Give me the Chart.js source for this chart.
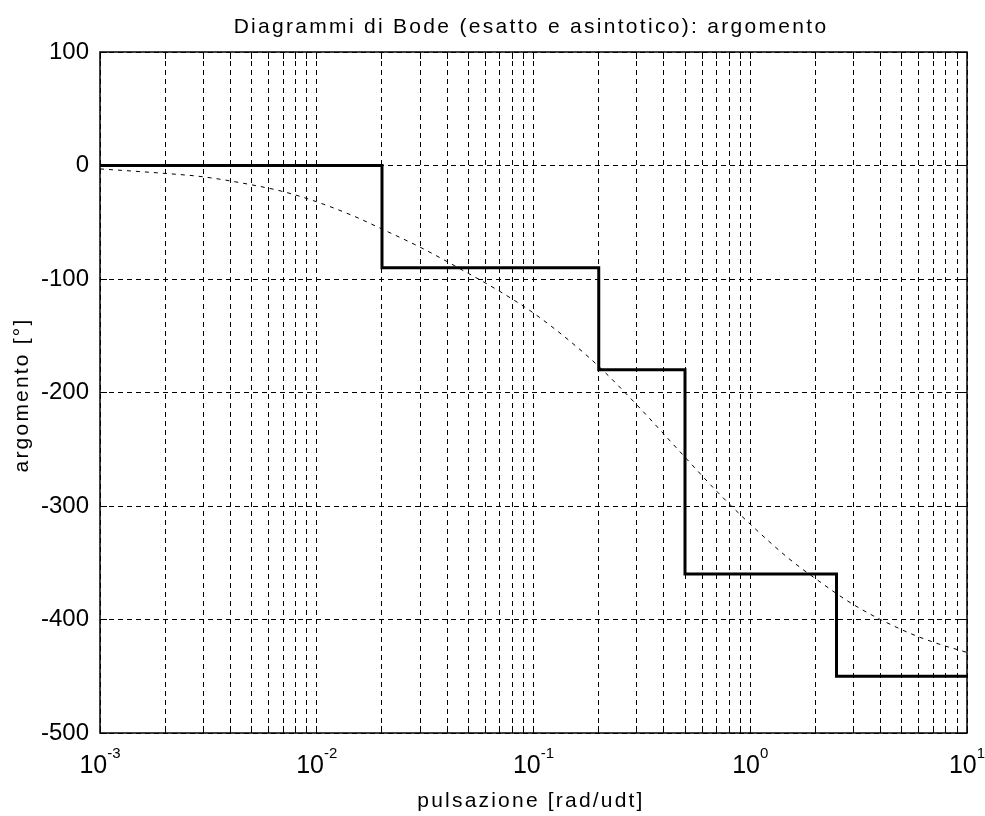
<!DOCTYPE html>
<html>
<head>
<meta charset="utf-8">
<title>Diagrammi di Bode</title>
<script src="https://cdn.jsdelivr.net/npm/chart.js@4.4.0/dist/chart.umd.min.js"></script>
<style>
  html, body { margin: 0; padding: 0; background: #fff; }
  canvas { display: block; }
</style>
</head>
<body>
<canvas id="bode" width="985" height="816"></canvas>
<script>
// asymptotic phase: one level per break frequency
const asymFreq = [0.001, 0.02, 0.2, 0.5, 2.5, 10];
const asymPhase = [0, -90, -180, -360, -450, -450];

// exact phase curve
const exactFreq = [0.001, 0.002, 0.003, 0.005, 0.007, 0.01, 0.015, 0.02, 0.03, 0.05, 0.07, 0.1,
                   0.15, 0.2, 0.3, 0.5, 0.7, 1, 1.5, 2, 3, 5, 7, 10];
const exactPhase = [-3, -7, -10, -17, -23, -32, -45, -56, -72, -95, -111, -130,
                    -156, -177, -211, -257, -287, -316, -346, -364, -387, -409, -420, -429];

// axis ticks
const decades = [0.001, 0.01, 0.1, 1, 10];
const decadeExp = ['-3', '-2', '-1', '0', '1'];
const yTicks = [100, 0, -100, -200, -300, -400, -500];

const titleText = 'Diagrammi di Bode (esatto e asintotico): argomento';
const xTitle = 'pulsazione [rad/udt]';
const yTitle = 'argomento [°]';

const FONT = '"Liberation Sans", Arial, Helvetica, sans-serif';

function align(p) {
    return Math.round(p - 0.5) + 0.5;
}

// frame, inward tick marks, 10^n labels and titles
const bodeFrame = {
    id: 'bodeFrame',
    afterDraw(chart) {
        const { ctx, chartArea: a, scales: { x, y } } = chart;
        ctx.save();
        ctx.strokeStyle = '#000';
        ctx.lineWidth = 1;
        ctx.beginPath();
        x.ticks.forEach(t => {
            const px = align(x.getPixelForValue(t.value));
            ctx.moveTo(px, a.bottom); ctx.lineTo(px, a.bottom - 7);
            ctx.moveTo(px, a.top); ctx.lineTo(px, a.top + 7);
        });
        y.ticks.forEach(t => {
            const py = align(y.getPixelForValue(t.value));
            ctx.moveTo(a.left, py); ctx.lineTo(a.left + 7, py);
            ctx.moveTo(a.right, py); ctx.lineTo(a.right - 7, py);
        });
        ctx.stroke();

        ctx.lineWidth = 1.5;
        ctx.strokeRect(a.left, a.top, a.right - a.left, a.bottom - a.top);

        // decade labels with raised exponent
        ctx.fillStyle = '#000';
        ctx.textBaseline = 'alphabetic';
        ctx.textAlign = 'left';
        decades.forEach((v, i) => {
            const px = x.getPixelForValue(v);
            ctx.font = '25px ' + FONT;
            const bw = ctx.measureText('10').width;
            ctx.font = '15px ' + FONT;
            const ew = ctx.measureText(decadeExp[i]).width;
            const x0 = px - (bw + ew) / 2;
            ctx.font = '25px ' + FONT;
            ctx.fillText('10', x0, a.bottom + 40);
            ctx.font = '15px ' + FONT;
            ctx.fillText(decadeExp[i], x0 + bw, a.bottom + 25);
        });

        // titles
        ctx.font = '21px ' + FONT;
        ctx.letterSpacing = '2.3px';
        ctx.textAlign = 'center';
        ctx.fillText(titleText, 531, 33);

        ctx.letterSpacing = '2.2px';
        ctx.fillText(xTitle, 531, 807);

        ctx.translate(28, 395);
        ctx.rotate(-Math.PI / 2);
        ctx.fillText(yTitle, 0, 0);
        ctx.restore();
    }
};

const gridStyle = { color: '#000', lineWidth: 1, drawTicks: false };

new Chart(document.getElementById('bode'), {
    type: 'line',
    data: {
        datasets: [
            {
                label: 'asintotico',
                data: asymFreq.map((f, i) => ({ x: f, y: asymPhase[i] })),
                stepped: 'before',
                borderColor: '#000',
                borderWidth: 3,
                pointRadius: 0,
                fill: false
            },
            {
                label: 'esatto',
                data: exactFreq.map((f, i) => ({ x: f, y: exactPhase[i] })),
                borderColor: '#000',
                borderWidth: 1,
                borderDash: [4, 5],
                pointRadius: 0,
                cubicInterpolationMode: 'monotone',
                fill: false
            }
        ]
    },
    options: {
        responsive: false,
        animation: false,
        devicePixelRatio: 1,
        layout: { padding: { top: 52, right: 18, bottom: 0, left: 0 } },
        plugins: {
            legend: { display: false },
            tooltip: { enabled: false },
            title: { display: false }
        },
        scales: {
            x: {
                type: 'logarithmic',
                min: 0.001,
                max: 10,
                afterBuildTicks(scale) {
                    const ticks = [];
                    decades.forEach(d => {
                        for (let k = 1; k <= 9; k++) {
                            if (d * k <= 10) ticks.push({ value: d * k });
                        }
                    });
                    scale.ticks = ticks;
                },
                afterFit(scale) { scale.height = 83; },
                ticks: { display: false },
                grid: gridStyle,
                border: { display: false, dash: [5, 4] }
            },
            y: {
                type: 'linear',
                min: -500,
                max: 100,
                afterBuildTicks(scale) {
                    scale.ticks = yTicks.map(v => ({ value: v }));
                },
                afterFit(scale) { scale.width = 100; },
                ticks: {
                    color: '#000',
                    padding: 11,
                    font: { family: FONT, size: 24 },
                    callback: v => String(v)
                },
                grid: gridStyle,
                border: { display: false, dash: [5, 4] }
            }
        }
    },
    plugins: [bodeFrame]
});
</script>
</body>
</html>
